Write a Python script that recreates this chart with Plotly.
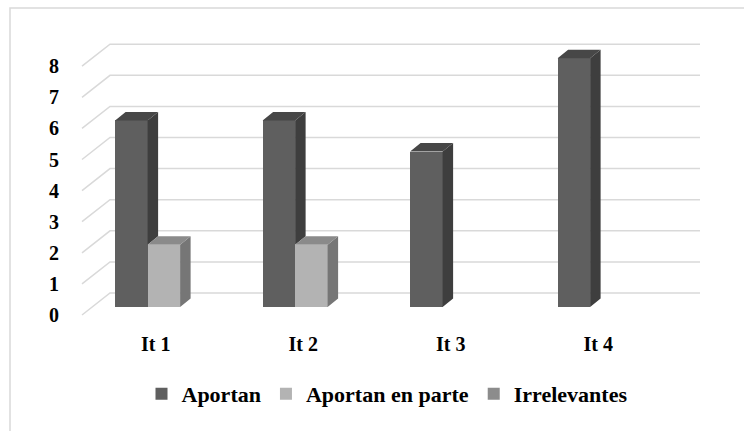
import plotly.graph_objects as go

# ---- data ----
categories = ["It 1", "It 2", "It 3", "It 4"]
aportan = [6, 6, 5, 8]
aportan_en_parte = [2, 2, 0, 0]
irrelevantes = [0, 0, 0, 0]
y_ticks = [0, 1, 2, 3, 4, 5, 6, 7, 8]

# name, values, front colour, side colour, top colour
series = [
    ("Aportan", aportan, "#5f5f5f", "#3e3e3e", "#474747"),
    ("Aportan en parte", aportan_en_parte, "#b3b3b3", "#767676", "#8a8a8a"),
    ("Irrelevantes", irrelevantes, "#8c8c8c", "#5a5a5a", "#666666"),
]

# ---- geometry of the pseudo-3D frame ----
W, H = 744, 431
L, R, T, B = 80, 705, 40, 330      # plot area (px)
PX_X = 147.5                        # px per category
PX_Y = 31.1                         # px per value unit
X0_PX, Y0_PX = 82, 315              # front-left floor corner (px)

x_range = [(L - X0_PX) / PX_X - 0.5, (R - X0_PX) / PX_X - 0.5]
y_range = [(Y0_PX - B) / PX_Y, (Y0_PX - T) / PX_Y]

wall_dx, wall_dy = 28 / PX_X, 22 / PX_Y     # depth of floor / back wall
bar_dx, bar_dy = 10.5 / PX_X, 8.5 / PX_Y    # depth of each bar
bar_base = 8 / PX_Y                          # bars sit part-way into the floor
bar_w = 32.5 / PX_X
group_shift = 0.055

FONT = "Liberation Serif, Times New Roman, serif"
GRID = "#d9d9d9"

fig = go.Figure()

# front faces of the bars
positions = []
for k, (name, vals, front, side, top) in enumerate(series):
    xs = [i + group_shift + (k - 1) * bar_w for i in range(len(categories))]
    positions.append(xs)
    fig.add_trace(go.Bar(
        x=xs, y=vals, base=bar_base, width=bar_w, name=name,
        marker=dict(color=front, line=dict(width=0)),
        hoverinfo="skip",
    ))

# side and top faces, computed from the same values
for k, (name, vals, front, side, top) in enumerate(series):
    side_x, side_y, top_x, top_y = [], [], [], []
    for i, v in enumerate(vals):
        if v <= 0:
            continue
        xl = positions[k][i] - bar_w / 2
        xr = positions[k][i] + bar_w / 2
        yt = bar_base + v
        start = bar_base
        if k + 1 < len(series) and series[k + 1][1][i] > 0:
            start = bar_base + series[k + 1][1][i]
        if start < yt:
            side_x += [xr, xr + bar_dx, xr + bar_dx, xr, xr, None]
            side_y += [start, start + bar_dy, yt + bar_dy, yt, start, None]
        top_x += [xl, xr, xr + bar_dx, xl + bar_dx, xl, None]
        top_y += [yt, yt, yt + bar_dy, yt + bar_dy, yt, None]
    for xs_, ys_, col in ((side_x, side_y, side), (top_x, top_y, top)):
        if xs_:
            fig.add_trace(go.Scatter(
                x=xs_, y=ys_, mode="lines", fill="toself", fillcolor=col,
                line=dict(width=0, color=col), showlegend=False, hoverinfo="skip",
            ))

# back-wall gridlines with their diagonal run across the floor
shapes = []
for v in y_ticks:
    x0, x1, x2 = -0.5, -0.5 + wall_dx, len(categories) - 0.5 + wall_dx
    y1 = v + wall_dy
    shapes.append(dict(
        type="path", xref="x", yref="y", layer="below",
        path=f"M {x0},{v} L {x1},{y1} L {x2},{y1}",
        line=dict(color=GRID, width=1.5),
    ))

# chart-area border
shapes.append(dict(
    type="rect", xref="paper", yref="paper",
    x0=(10 - L) / (R - L), x1=(760 - L) / (R - L),
    y0=(B - 440) / (B - T), y1=(B - 8) / (B - T),
    line=dict(color=GRID, width=1.5), fillcolor="rgba(0,0,0,0)", layer="below",
))

fig.update_layout(
    width=W, height=H,
    margin=dict(l=L, r=W - R, t=T, b=H - B, pad=0),
    paper_bgcolor="white", plot_bgcolor="white",
    barmode="overlay", bargap=0,
    shapes=shapes,
    font=dict(family=FONT, size=20, color="#000000", weight="bold"),
    xaxis=dict(
        range=x_range, tickvals=list(range(len(categories))), ticktext=categories,
        showgrid=False, zeroline=False, showline=False, ticks="",
        tickfont=dict(family=FONT, size=20, weight="bold"), fixedrange=True,
    ),
    yaxis=dict(
        range=y_range, tickvals=y_ticks, ticktext=[str(t) for t in y_ticks],
        showgrid=False, zeroline=False, showline=False,
        ticks="outside", ticklen=16, tickcolor="rgba(0,0,0,0)",
        tickfont=dict(family=FONT, size=20, weight="bold"), fixedrange=True,
    ),
    legend=dict(
        orientation="h", x=(387 - L) / (R - L), xanchor="center",
        y=(B - 394) / (B - T), yanchor="middle",
        font=dict(family=FONT, size=22, weight="bold"), traceorder="normal",
        itemwidth=30,
    ),
    showlegend=True,
)

fig.write_html("out.html")
